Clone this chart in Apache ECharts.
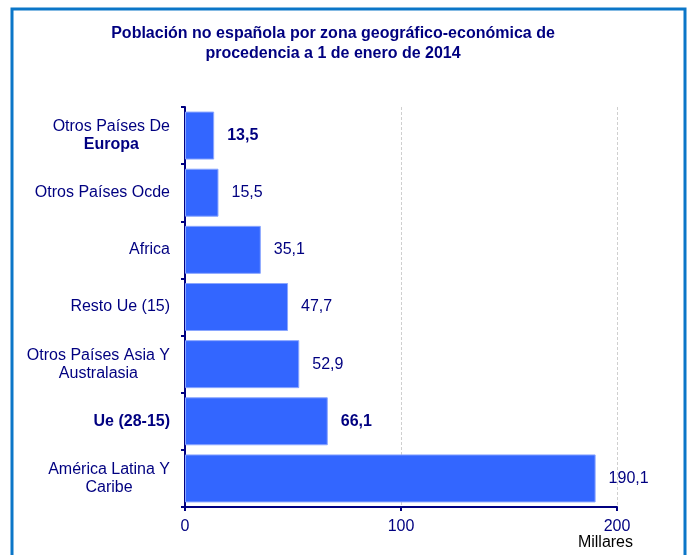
<!DOCTYPE html>
<html>
<head>
<meta charset="utf-8">
<script src="https://cdn.jsdelivr.net/npm/echarts@6/dist/echarts.min.js"></script>
<style>
  html, body { margin: 0; padding: 0; background: #fff; }
  #chart { width: 692px; height: 555px; }
</style>
</head>
<body>
<div id="chart"></div>
<script>
  // categories from top to bottom
  const categories = [
    'Otros Países De\nEuropa',
    'Otros Países Ocde',
    'Africa',
    'Resto Ue (15)',
    'Otros Países Asia Y\nAustralasia',
    'Ue (28-15)',
    'América Latina Y\nCaribe'
  ]
  const values = [13.5, 15.5, 35.1, 47.7, 52.9, 66.1, 190.1]
  // labels that are drawn in bold in the original
  const boldValueIdx = [0, 5]
  const boldCatLines = ['Europa', 'Ue (28-15)']
  const xTicks = [0, 100, 200]

  const navy = '#000080'
  const font = 'Liberation Sans, Arial'
  const myChart = echarts.init(document.getElementById('chart'))

  myChart.setOption({
    backgroundColor: '#fff',
    animation: false,
    title: {
      text: 'Población no española por zona geográfico-económica de\nprocedencia a 1 de enero de 2014',
      left: 328,
      top: 19,
      textAlign: 'center',
      textStyle: {
        fontFamily: font,
        fontSize: 16,
        fontWeight: 'bold',
        color: navy,
        lineHeight: 20
      }
    },
    graphic: [
      {
        type: 'rect',
        shape: { x: 12, y: 9, width: 673, height: 570 },
        style: { fill: 'none', stroke: '#0b76c8', lineWidth: 3 },
        silent: true
      },
      {
        type: 'text',
        x: 633,
        y: 535,
        style: {
          text: 'Millares',
          align: 'right',
          fontFamily: font,
          fontSize: 16,
          fill: '#000'
        }
      }
    ],
    grid: {
      left: 185,
      right: 75,
      top: 107,
      bottom: 48
    },
    xAxis: {
      type: 'value',
      min: xTicks[0],
      max: xTicks[xTicks.length - 1],
      interval: 100,
      axisLine: { show: true, lineStyle: { color: navy, width: 2 } },
      axisTick: { show: true, length: 4, lineStyle: { color: navy, width: 2 } },
      axisLabel: {
        margin: 12,
        fontFamily: font,
        fontSize: 16,
        color: navy
      },
      splitLine: { show: true, lineStyle: { color: '#cfcfcf', type: [3, 2], width: 1 } }
    },
    yAxis: {
      type: 'category',
      inverse: true,
      data: categories,
      axisLine: { show: true, lineStyle: { color: navy, width: 2 } },
      axisTick: { show: true, length: 4, lineStyle: { color: navy, width: 2 } },
      axisLabel: {
        margin: 15,
        align: 'right',
        formatter: function (v) {
          return v.split('\n').map(function (line) {
            return (boldCatLines.indexOf(line) >= 0 ? '{cb|' : '{c|') + line + '}'
          }).join('\n')
        },
        rich: {
          c: {
            align: 'center',
            fontFamily: font,
            fontSize: 16,
            color: navy,
            lineHeight: 18
          },
          cb: {
            align: 'center',
            fontFamily: font,
            fontSize: 16,
            fontWeight: 'bold',
            color: navy,
            lineHeight: 18
          }
        }
      }
    },
    series: [
      {
        type: 'bar',
        barWidth: 48,
        itemStyle: { color: '#3366ff', borderColor: '#8aa6ff', borderWidth: 1 },
        label: {
          show: true,
          position: 'right',
          distance: 13,
          fontFamily: font,
          fontSize: 16,
          color: navy,
          formatter: function (p) {
            return p.value.toFixed(1).replace('.', ',')
          }
        },
        data: values.map(function (v, i) {
          return boldValueIdx.indexOf(i) >= 0
            ? { value: v, label: { fontWeight: 'bold' } }
            : v
        })
      }
    ]
  })
</script>
</body>
</html>
